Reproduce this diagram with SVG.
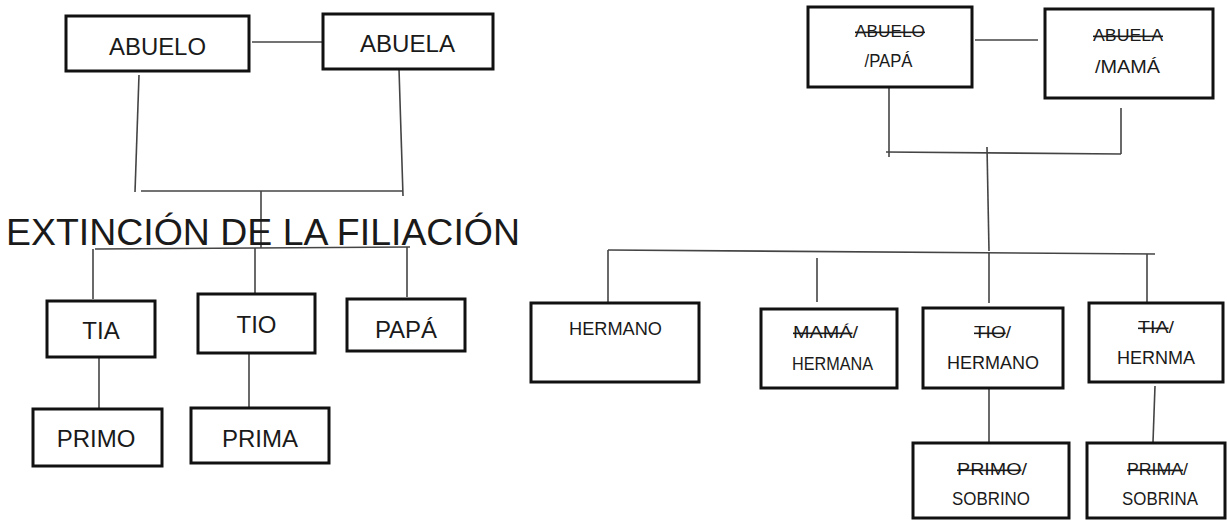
<svg xmlns="http://www.w3.org/2000/svg" width="1227" height="520" viewBox="0 0 1227 520">
<style>
.box{fill:#fff;stroke:#111;stroke-width:3}
.ln{stroke:#444;stroke-width:1.6;fill:none}
.t{font-family:"Liberation Sans",Arial,sans-serif;fill:#1a1a1a;text-anchor:middle}
.L{font-size:24px}
.R{font-size:18.5px}
.S{font-size:16px}
.title{font-family:"Liberation Sans",Arial,sans-serif;font-size:37px;fill:#1a1a1a}
</style>
<rect width="1227" height="520" fill="#fff"/>
<g id="connectors">
<line class="ln" x1="252" y1="42" x2="322" y2="42"/>
<line class="ln" x1="139" y1="75" x2="135" y2="192"/>
<line class="ln" x1="399" y1="69" x2="403" y2="196"/>
<line class="ln" x1="141" y1="191" x2="403" y2="191"/>
<line class="ln" x1="261" y1="191" x2="261" y2="248"/>
<line class="ln" x1="95" y1="249" x2="410" y2="247"/>
<line class="ln" x1="93" y1="249" x2="93" y2="299"/>
<line class="ln" x1="255" y1="248" x2="255" y2="293"/>
<line class="ln" x1="407" y1="247" x2="407" y2="297"/>
<line class="ln" x1="99" y1="357" x2="99" y2="408"/>
<line class="ln" x1="249" y1="353" x2="249" y2="407"/>
<line class="ln" x1="975" y1="40" x2="1038" y2="40"/>
<line class="ln" x1="889" y1="87" x2="889" y2="157"/>
<line class="ln" x1="1121" y1="108" x2="1121" y2="154"/>
<line class="ln" x1="886" y1="152" x2="1121" y2="154"/>
<line class="ln" x1="987" y1="147" x2="989" y2="251"/>
<line class="ln" x1="608" y1="250" x2="1155" y2="254"/>
<line class="ln" x1="608" y1="250" x2="608" y2="305"/>
<line class="ln" x1="817" y1="258" x2="817" y2="302"/>
<line class="ln" x1="989" y1="252" x2="989" y2="303"/>
<line class="ln" x1="1147" y1="254" x2="1147" y2="302"/>
<line class="ln" x1="989" y1="388" x2="989" y2="442"/>
<line class="ln" x1="1155" y1="386" x2="1153" y2="442"/>
</g>
<g id="title"><text class="title" x="6" y="245" textLength="514" lengthAdjust="spacingAndGlyphs">EXTINCIÓN DE LA FILIACIÓN</text></g>
<g id="abuelo"><rect class="box" x="66" y="16" width="183" height="55"/><text class="t L" x="157.5" y="55" textLength="97" lengthAdjust="spacingAndGlyphs">ABUELO</text></g>
<g id="abuela"><rect class="box" x="323" y="14" width="170" height="55"/><text class="t L" x="407.5" y="52" textLength="95" lengthAdjust="spacingAndGlyphs">ABUELA</text></g>
<g id="tia"><rect class="box" x="47" y="301" width="108" height="56"/><text class="t L" x="101" y="339">TIA</text></g>
<g id="tio"><rect class="box" x="198" y="294" width="117" height="59"/><text class="t L" x="256.5" y="333">TIO</text></g>
<g id="papa"><rect class="box" x="347" y="299" width="118" height="52"/><text class="t L" x="406" y="338">PAPÁ</text></g>
<g id="primo"><rect class="box" x="33" y="409" width="129" height="57"/><text class="t L" x="96" y="447">PRIMO</text></g>
<g id="prima"><rect class="box" x="191" y="408" width="138" height="55"/><text class="t L" x="260" y="447">PRIMA</text></g>
<g id="abuelo-papa"><rect class="box" x="808" y="7" width="164" height="80"/>
<text class="t S" x="890" y="37" textLength="70" lengthAdjust="spacingAndGlyphs"><tspan text-decoration="line-through">ABUELO</tspan></text>
<text class="t R" x="888.5" y="67" textLength="48" lengthAdjust="spacingAndGlyphs">/PAPÁ</text></g>
<g id="abuela-mama"><rect class="box" x="1045" y="9" width="168" height="89"/>
<text class="t S" x="1128" y="41" textLength="70" lengthAdjust="spacingAndGlyphs"><tspan text-decoration="line-through">ABUELA</tspan></text>
<text class="t R" x="1127.5" y="73" textLength="65" lengthAdjust="spacingAndGlyphs">/MAMÁ</text></g>
<g id="hermano1"><rect class="box" x="531" y="303" width="168" height="79"/>
<text class="t R" x="615.5" y="335" textLength="93" lengthAdjust="spacingAndGlyphs">HERMANO</text></g>
<g id="mama-hermana"><rect class="box" x="761" y="309" width="136" height="79"/>
<text class="t S" x="825.5" y="338" textLength="65" lengthAdjust="spacingAndGlyphs"><tspan text-decoration="line-through">MAMÁ</tspan>/</text>
<text class="t R" x="832.5" y="370" textLength="81" lengthAdjust="spacingAndGlyphs">HERMANA</text></g>
<g id="tio-hermano"><rect class="box" x="923" y="308" width="140" height="80"/>
<text class="t S" x="992.5" y="338" textLength="37" lengthAdjust="spacingAndGlyphs"><tspan text-decoration="line-through">TIO</tspan>/</text>
<text class="t R" x="993" y="369" textLength="92" lengthAdjust="spacingAndGlyphs">HERMANO</text></g>
<g id="tia-hermana"><rect class="box" x="1089" y="303" width="134" height="79"/>
<text class="t S" x="1156" y="333" textLength="36" lengthAdjust="spacingAndGlyphs"><tspan text-decoration="line-through">TIA</tspan>/</text>
<text class="t R" x="1156" y="364" textLength="78" lengthAdjust="spacingAndGlyphs">HERNMA</text></g>
<g id="primo-sobrino"><rect class="box" x="913" y="443" width="156" height="75"/>
<text class="t S" x="992" y="475" textLength="70" lengthAdjust="spacingAndGlyphs"><tspan text-decoration="line-through">PRIMO</tspan>/</text>
<text class="t R" x="991" y="505" textLength="78" lengthAdjust="spacingAndGlyphs">SOBRINO</text></g>
<g id="prima-sobrina"><rect class="box" x="1087" y="443" width="138" height="75"/>
<text class="t S" x="1157.5" y="475" textLength="61" lengthAdjust="spacingAndGlyphs"><tspan text-decoration="line-through">PRIMA</tspan>/</text>
<text class="t R" x="1160" y="505" textLength="76" lengthAdjust="spacingAndGlyphs">SOBRINA</text></g>
</svg>
